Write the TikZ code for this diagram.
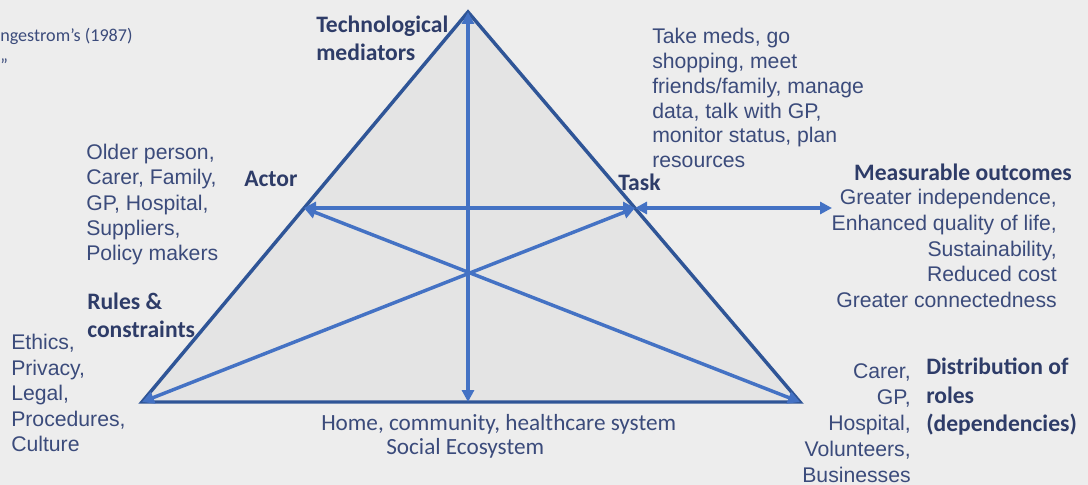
\documentclass[tikz,border=0pt]{standalone}
\usepackage{fontspec}
\setmainfont{Liberation Sans}
\newfontfamily\calibri{Carlito}
\usepackage{tikz}
\usetikzlibrary{arrows.meta}

\definecolor{bgcol}{HTML}{EDEDED}
\definecolor{trifill}{HTML}{E4E4E4}
\definecolor{triline}{HTML}{2F5597}
\definecolor{linkcol}{HTML}{4472C4}
\definecolor{txtcol}{HTML}{3B4B7B}
\definecolor{headcol}{HTML}{2E3C68}

\begin{document}
\begin{tikzpicture}[x=0.75pt,y=-0.75pt,
  link/.style={draw=linkcol,line width=2.6pt,
    {Triangle[length=9pt,width=9pt]}-{Triangle[length=9pt,width=9pt]}},
  txt/.style={inner sep=0pt,text=txtcol,font=\fontsize{15.9}{18.8}\selectfont},
  head/.style={inner sep=0pt,text=headcol,font=\calibri\bfseries\fontsize{17.7}{21}\selectfont}]
\fill[bgcol] (0,0) rectangle (1088,485);
\useasboundingbox (0,0) rectangle (1088,485);

% corners of the triangle
\coordinate (top) at (468,12);
\coordinate (bl) at (142,402);
\coordinate (br) at (800,402);
\coordinate (actor) at (304,208);
\coordinate (task) at (635,208);
\coordinate (base) at (468,402);
\coordinate (outcome) at (832,208);

\filldraw[fill=trifill,draw=triline,line width=2.6pt] (top) -- (bl) -- (br) -- cycle;

\draw[link] (base) -- (top);
\draw[link] (actor) -- (task);
\draw[link] (task) -- (outcome);
\draw[link] (bl) -- (task);
\draw[link] (actor) -- (br);

% labels
\node[txt,anchor=base west,font=\calibri\fontsize{13.6}{15}\selectfont] (ref) at (0,41.5) {ngestrom’s (1987)};
\node[txt,anchor=base west,font=\calibri\fontsize{13.6}{15}\selectfont] (quote) at (0,71) {”};

\node[head,anchor=north west,align=left] (tech) at (316,16) {Technological\\mediators};
\node[txt,anchor=north west,align=left,font=\fontsize{15.9}{18.6}\selectfont] (tasks) at (652,28) {Take meds, go\\shopping, meet\\friends/family, manage\\data, talk with GP,\\monitor status, plan\\resources};
\node[txt,anchor=north west,align=left,font=\fontsize{15.9}{18.9}\selectfont] (actors) at (86,144) {Older person,\\Carer, Family,\\GP, Hospital,\\Suppliers,\\Policy makers};
\node[head,anchor=west] (actorlbl) at (244,179) {Actor};
\node[head,anchor=west] (tasklbl) at (618,182) {Task};
\node[head,anchor=east] (outlbl) at (1072,172) {Measurable outcomes};
\node[txt,anchor=north east,align=right,font=\fontsize{15.9}{19.3}\selectfont] (outs) at (1057,189) {Greater independence,\\Enhanced quality of life,\\Sustainability,\\Reduced cost\\Greater connectedness};
\node[head,anchor=north west,align=left] (rules) at (87,293) {Rules \&\\constraints};
\node[txt,anchor=north west,align=left,font=\fontsize{15.9}{19.1}\selectfont] (ethics) at (11,334) {Ethics,\\Privacy,\\Legal,\\Procedures,\\Culture};
\node[txt,anchor=base west,font=\calibri\fontsize{17.4}{18}\selectfont] (home) at (321,430) {Home, community, healthcare system};
\node[txt,anchor=base west,font=\calibri\fontsize{17.4}{18}\selectfont] (eco) at (386,454) {Social Ecosystem};
\node[txt,anchor=north east,align=right,font=\fontsize{15.9}{19.5}\selectfont] (roles) at (911,363) {Carer,\\GP,\\Hospital,\\Volunteers,\\Businesses};
\node[head,anchor=north west,align=left,font=\calibri\bfseries\fontsize{17.7}{21.4}\selectfont] (dist) at (926,358) {Distribution of\\roles\\(dependencies)};
\end{tikzpicture}
\end{document}
